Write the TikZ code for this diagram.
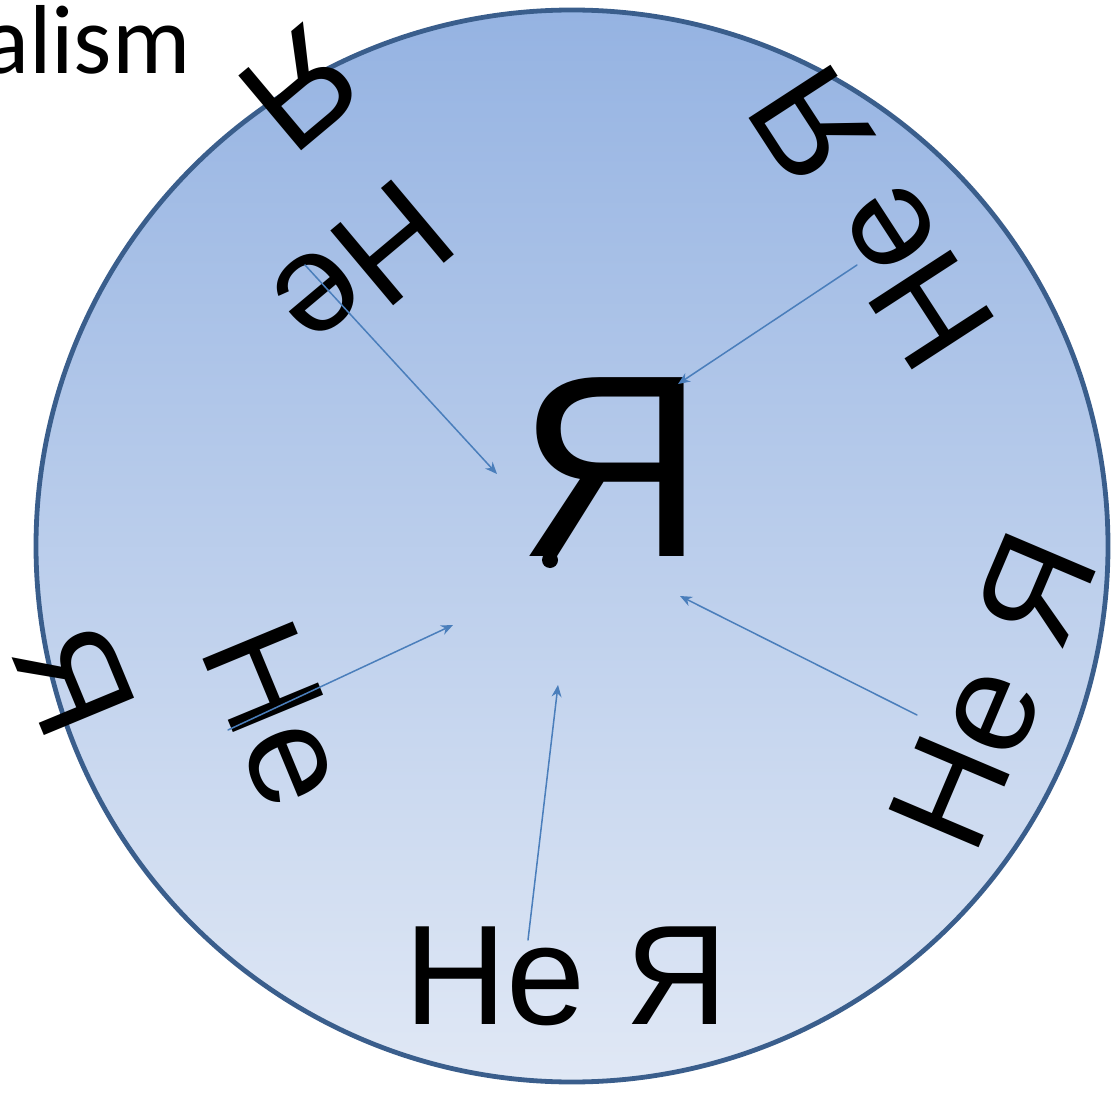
\documentclass[tikz,border=0pt]{standalone}
\usepackage{fontspec}
\setmainfont{Liberation Sans}
\newfontfamily\carlito{Carlito}
\usetikzlibrary{arrows.meta}

\begin{document}
\begin{tikzpicture}[x=0.5pt,y=-0.5pt,line join = round, line cap = round,>={Stealth[length=6pt,width=5pt]}]
            \definecolor{ringblue}{RGB}{58,94,140}
            \definecolor{topblue}{RGB}{149,179,226}
            \definecolor{botblue}{RGB}{224,232,245}
            \definecolor{arrowblue}{RGB}{74,126,187}
            \tikzset{
                    neya/.style={inner sep=0pt,font=\fontsize{71}{80}\selectfont},
                    self/.style={inner sep=0pt,font=\fontsize{130}{145}\selectfont},
                    link/.style={draw=arrowblue,line width=0.75pt,->}
            }
            \useasboundingbox (0,0) rectangle (1115,1102);
            
            \shade[top color=topblue,bottom color=botblue,draw=ringblue,line width=2.4pt] (572,546) circle[radius=268pt];
            \node[font=\carlito\fontsize{49}{58}\selectfont,anchor=base east,inner sep=0pt] (title) at (191,74) {alism};
            %===============================
            \fill (550,560) circle[radius=4pt];
            \node[self] (ya) at (611,467) {Я};
            
            \node[neya] (bottom) at (566,976) {Не Я};
            \node[neya,rotate=67] (right) at (993,691) {Не Я};
            \node[neya,rotate=123] (upright) at (872,217) {Не Я};
            \node[neya,rotate=-67.5] (left) at (278,714) {Не};
            \node[neya,rotate=-67.5] (leftya) at (74,680) {Я};
            \node[neya,rotate=220] (upleft) at (362,268) {Не};
            \node[neya,rotate=220] (upleftya) at (301,88) {Я};
            %===============================
            \coordinate (ulS) at (305,265); \coordinate (ulE) at (497,474);
            \coordinate (urS) at (857,265); \coordinate (urE) at (678,384);
            \coordinate (lS) at (228,730);  \coordinate (lE) at (453,625);
            \coordinate (rS) at (917,715);  \coordinate (rE) at (680,596);
            \coordinate (bS) at (528,940);  \coordinate (bE) at (558,685);
            \draw[link] (ulS) -- (ulE);
            \draw[link] (urS) -- (urE);
            \draw[link] (lS) -- (lE);
            \draw[link] (rS) -- (rE);
            \draw[link] (bS) -- (bE);
\end{tikzpicture}
\end{document}
